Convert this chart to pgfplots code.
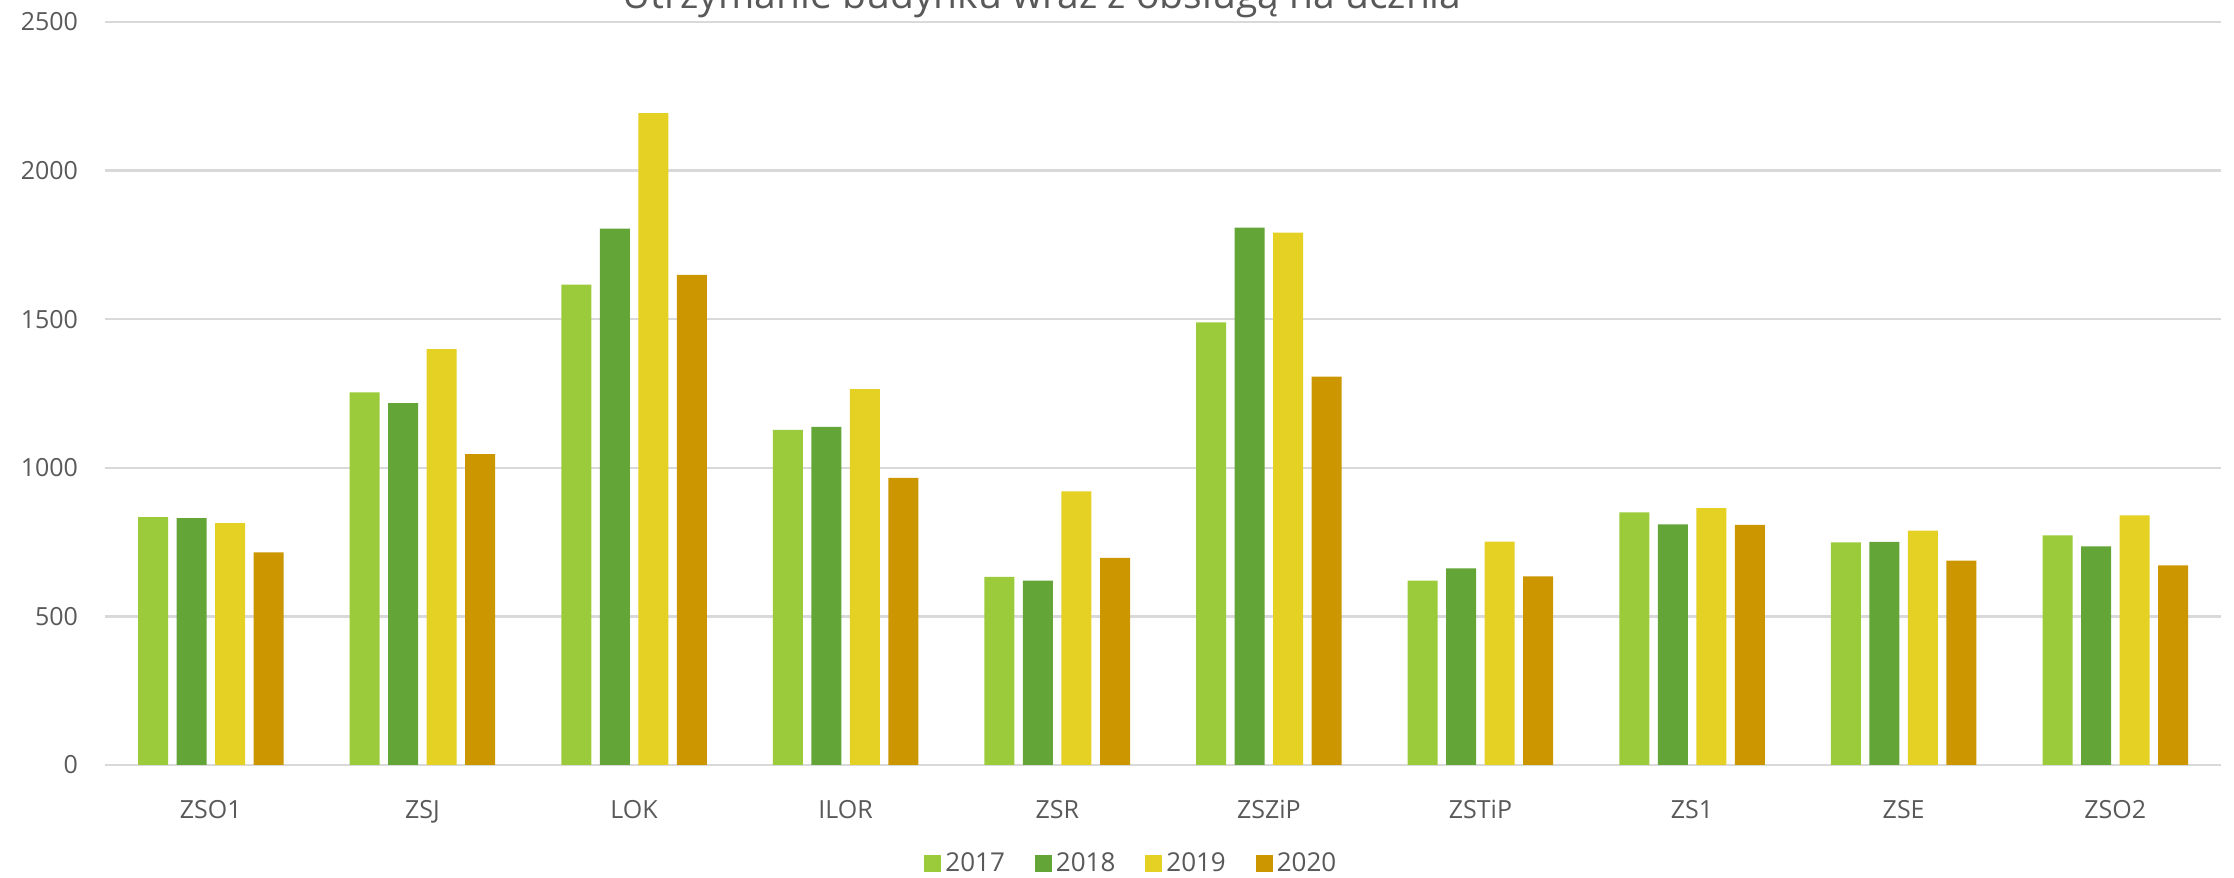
\documentclass[border=0pt]{standalone}
\usepackage{fontspec}
\setmainfont{Open Sans}
\usepackage{pgfplots}
\pgfplotsset{compat=1.18}
\definecolor{c2017}{RGB}{155,203,58}
\definecolor{c2018}{RGB}{99,165,55}
\definecolor{c2019}{RGB}{229,208,36}
\definecolor{c2020}{RGB}{204,150,0}
\definecolor{txt}{RGB}{89,89,89}
\definecolor{gridgray}{RGB}{217,217,217}

\begin{document}
\begin{tikzpicture}
  \useasboundingbox (0,0) rectangle (1117pt,439pt);
  % title is cut at the top edge, as in the source
  \node[anchor=base, text=txt, font=\fontsize{19.5}{22}\selectfont, inner sep=0pt]
    at (521pt,434.5pt) {Utrzymanie budynku wraz z obsługą na ucznia};
  \begin{axis}[
    at={(52.5pt,56.5pt)}, anchor=south west,
    scale only axis,
    width=1058pt, height=371.5pt,
    ybar=4.25pt, bar width=15pt,
    xmin=-0.5, xmax=9.5,
    ymin=0, ymax=2500,
    ytick={0,500,1000,1500,2000,2500},
    xtick={0,...,9},
    xticklabels={ZSO1,ZSJ,LOK,ILOR,ZSR,ZSZiP,ZSTiP,ZS1,ZSE,ZSO2},
    axis line style={draw=none},
    tick style={draw=none},
    ymajorgrids,
    grid style={draw=gridgray, line width=1.2pt},
    /pgf/number format/assume math mode=true,
    /pgf/number format/1000 sep={},
    tick label style={text=txt, font=\fontsize{12.5}{15}\selectfont},
    yticklabel style={xshift=-10pt},
    xticklabel style={yshift=-9.8pt},
    legend style={at={(0.4855,-0.132)}, anchor=center, draw=none,
      font=\fontsize{13}{15}\selectfont, text=txt,
      /tikz/every even column/.append style={column sep=13pt}},
    legend columns=4,
    legend image code/.code={\fill[#1] (0pt,-4.25pt) rectangle (8.5pt,4.25pt);},
  ]
  \addplot[fill=c2017, draw=none] coordinates {
    (0,834) (1,1254) (2,1616) (3,1128) (4,633)
    (5,1489) (6,620) (7,850) (8,749) (9,773)};
  \addplot[fill=c2018, draw=none] coordinates {
    (0,831) (1,1218) (2,1805) (3,1138) (4,620)
    (5,1808) (6,662) (7,810) (8,751) (9,736)};
  \addplot[fill=c2019, draw=none] coordinates {
    (0,814) (1,1399) (2,2193) (3,1265) (4,921)
    (5,1791) (6,752) (7,864) (8,789) (9,840)};
  \addplot[fill=c2020, draw=none] coordinates {
    (0,715) (1,1046) (2,1649) (3,966) (4,697)
    (5,1307) (6,635) (7,808) (8,688) (9,672)};
  \legend{2017,2018,2019,2020}
  \end{axis}
\end{tikzpicture}
\end{document}
